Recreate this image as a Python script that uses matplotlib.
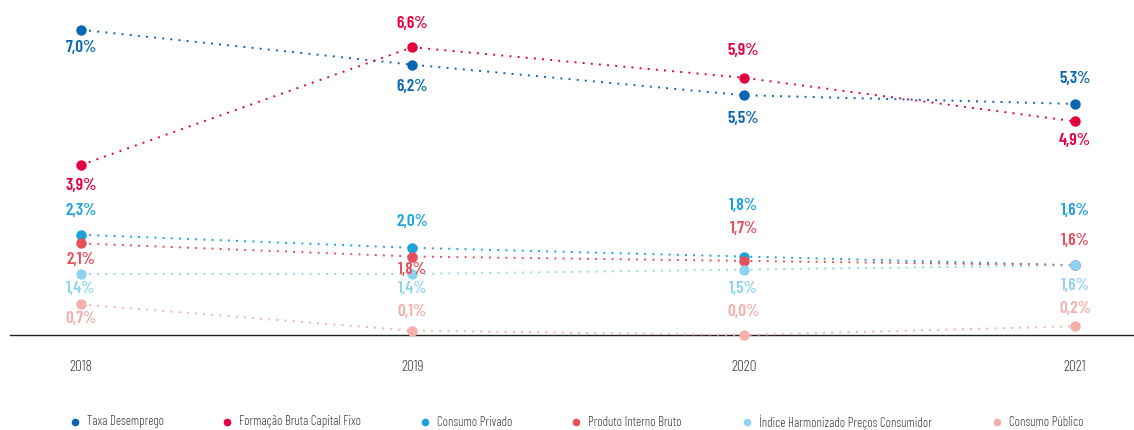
import matplotlib
matplotlib.use("Agg")
import matplotlib.pyplot as plt
from matplotlib.lines import Line2D

years = ["2018", "2019", "2020", "2021"]
series_names = ["Taxa Desemprego", "Formação Bruta Capital Fixo", "Consumo Privado",
                "Produto Interno Bruto", "Índice Harmonizado Preços Consumidor", "Consumo Público"]
taxa_desemprego = [7.0, 6.2, 5.5, 5.3]
fbcf = [3.9, 6.6, 5.9, 4.9]
consumo_privado = [2.3, 2.0, 1.8, 1.6]
pib = [2.1, 1.8, 1.7, 1.6]
ihpc = [1.4, 1.4, 1.5, 1.6]
consumo_publico = [0.7, 0.1, 0.0, 0.2]
values = [taxa_desemprego, fbcf, consumo_privado, pib, ihpc, consumo_publico]

colors = ["#0a66b2", "#e5003e", "#1ea2dc", "#e84e5c", "#8ed4f2", "#f5aea9"]
# label offsets in pixels (positive = above)
label_dy = [
    [-18, -22, -23, 25],
    [-21, 24, 27, -19],
    [24, 26, 51, 55],
    [-16, -13, 32, 25],
    [-15, -15, -19, -20],
    [-14, 19, 23, 18],
]
legend_marker_x = [75, 227, 425, 576, 747, 997]

plt.rcParams["font.family"] = ["Barlow Condensed", "DejaVu Sans"]

W, H = 1134, 430
fig = plt.figure(figsize=(W / 100, H / 100), dpi=100)
ax = fig.add_axes([10 / W, 95 / H, 1 - 10 / W, 1 - 95 / H])

x = list(range(len(years)))
for vals, c, dys in zip(values, colors, label_dy):
    ax.plot(x, vals, linestyle=(0, (1, 3.2)), lw=1.4, color=c, marker="o",
            markersize=7.5, markeredgewidth=0, clip_on=False, zorder=3)
    for xi, v, dy in zip(x, vals, dys):
        ax.annotate(f"{v:.1f}%".replace(".", ","), (xi, v),
                    xytext=(0, dy * 72 / 100), textcoords="offset points",
                    ha="center", va="center", color=c, fontsize=12.5,
                    fontweight=600, zorder=4)

ax.set_xlim(-0.2143, 3.178)
ax.set_ylim(0, 335 / 43.6)
for s in ["top", "right", "left"]:
    ax.spines[s].set_visible(False)
ax.spines["bottom"].set_color("#222222")
ax.spines["bottom"].set_linewidth(1.0)
ax.set_yticks([])
ax.set_xticks(x)
ax.set_xticklabels(years, color="#444444", fontsize=11, fontweight=300)
ax.tick_params(axis="x", length=0, pad=18)

ly = 1 - 422 / H
for mx, name, c in zip(legend_marker_x, series_names, colors):
    fig.add_artist(Line2D([mx / W], [ly], linestyle="none", marker="o", markersize=5.5,
                          markeredgewidth=0, color=c, transform=fig.transFigure))
    fig.text((mx + 12) / W, ly, name, ha="left", va="center", fontsize=9.3,
             color="#444444", fontweight=300)

fig.savefig("out.png", dpi=100)
